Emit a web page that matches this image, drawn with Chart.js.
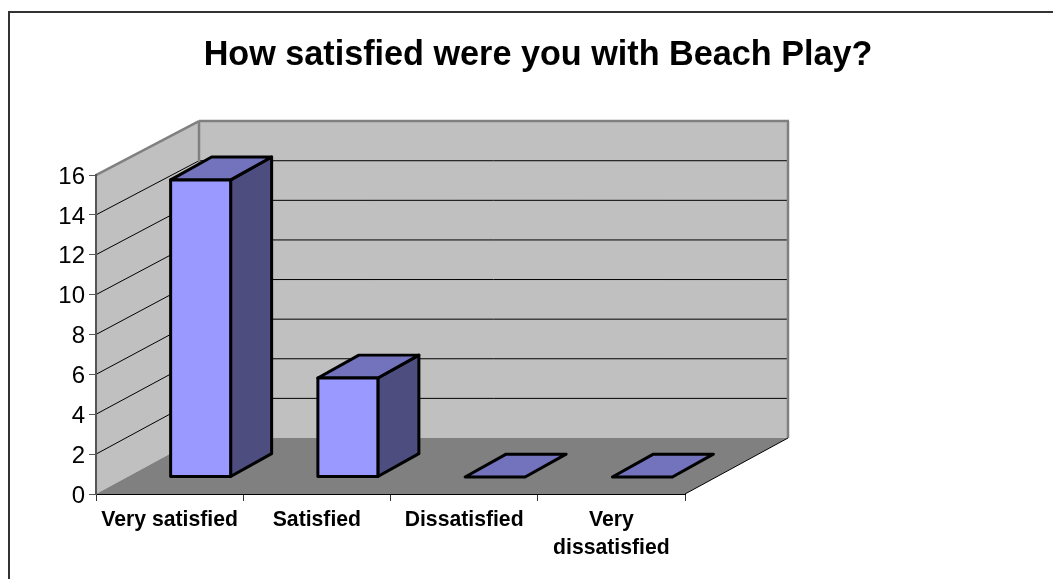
<!DOCTYPE html>
<html><head><meta charset="utf-8">
<style>
html,body{margin:0;padding:0;background:#fff;overflow:hidden}
#wrap{position:relative;width:1053px;height:579px;overflow:hidden}
#frame{position:absolute;left:8px;top:11px;right:-4px;height:566px;border-left:2px solid #333;border-top:2px solid #333}
canvas{position:absolute;left:0;top:0}
</style>
<script src="https://cdn.jsdelivr.net/npm/chart.js@4"></script>
</head><body>
<div id="wrap"><div id="frame"></div><canvas id="c" width="1053" height="579"></canvas></div>
<script>
const titleText = "How satisfied were you with Beach Play?";
const categories = ["Very satisfied", "Satisfied", "Dissatisfied", ["Very", "dissatisfied"]];
const responses = [15, 5, 0, 0];
const yTicks = [0, 2, 4, 6, 8, 10, 12, 14, 16];

const FONT = '"Liberation Sans", Arial, sans-serif';
const WALL = '#C0C0C0', FLOOR = '#808080', EDGE = '#808080';
const FRONT = '#9999FF', TOP = '#7373BD', SIDE = '#4D4D80';
const DEPTH = {x: 103, y: 56};        // full depth of the floor
const BAR_OFFSET = {x: 31, y: 17};    // bar position inside the floor depth
const BAR_DEPTH = {x: 41, y: 23};     // depth of one bar
const PLANE_SCALE = 0.9935;           // perspective shrink of value axis away from the front

function poly(ctx, pts, fill, stroke, lw) {
  ctx.beginPath();
  pts.forEach((p, i) => i ? ctx.lineTo(p[0], p[1]) : ctx.moveTo(p[0], p[1]));
  ctx.closePath();
  if (fill) { ctx.fillStyle = fill; ctx.fill(); }
  if (stroke) { ctx.strokeStyle = stroke; ctx.lineWidth = lw; ctx.lineJoin = 'round'; ctx.stroke(); }
}
function seg(ctx, x1, y1, x2, y2, color, lw) {
  ctx.beginPath(); ctx.moveTo(x1, y1); ctx.lineTo(x2, y2);
  ctx.strokeStyle = color; ctx.lineWidth = lw; ctx.stroke();
}

const box3d = {
  id: 'box3d',
  beforeDraw(chart) {
    const {ctx, scales: {x, y}} = chart;
    const L = x.left, R = x.right, B = y.getPixelForValue(0), T = y.getPixelForValue(16);
    const dx = DEPTH.x, dy = DEPTH.y;
    const backY = v => (B - dy) - (B - y.getPixelForValue(v)) * PLANE_SCALE;
    const wallTop = backY(16);
    ctx.save();
    // walls
    poly(ctx, [[L, B], [L, T], [L + dx, wallTop], [L + dx, B - dy]], WALL);
    poly(ctx, [[L + dx, B - dy], [L + dx, wallTop], [R + dx, wallTop], [R + dx, B - dy]], WALL);
    // grid lines on both walls
    yTicks.filter(v => v > 0 && v < 16).forEach(v => {
      const py = y.getPixelForValue(v), by = backY(v);
      seg(ctx, L, py, L + dx, by, '#000', 1);
      seg(ctx, L + dx, by, R + dx, by, '#000', 1);
    });
    // wall edges
    seg(ctx, L, T, L + dx, wallTop, EDGE, 2.5);
    seg(ctx, L + dx, wallTop, R + dx + 1, wallTop, EDGE, 2.5);
    seg(ctx, L + dx, wallTop, L + dx, B - dy, EDGE, 2.5);
    seg(ctx, R + dx, wallTop, R + dx, B - dy, EDGE, 2.5);
    // floor
    poly(ctx, [[L, B], [R, B], [R + dx, B - dy], [L + dx, B - dy]], FLOOR);
    seg(ctx, R, B, R + dx, B - dy, '#000', 1);
    ctx.restore();
  },
  beforeDatasetDraw(chart) {
    const {ctx} = chart;
    const bars = chart.getDatasetMeta(0).data;
    const base = bars[0].base;
    ctx.save();
    ctx.translate(BAR_OFFSET.x, -BAR_OFFSET.y);
    ctx.translate(0, base); ctx.scale(1, PLANE_SCALE); ctx.translate(0, -base);
    bars.forEach(b => {
      const l = b.x - b.width / 2, r = b.x + b.width / 2, t = b.y, bt = b.base;
      const ddx = BAR_DEPTH.x, ddy = BAR_DEPTH.y;
      if (bt - t > 0.5) {
        poly(ctx, [[r, t], [r + ddx, t - ddy], [r + ddx, bt - ddy], [r, bt]], SIDE, '#000', 3);
      }
      poly(ctx, [[l, t], [l + ddx, t - ddy], [r + ddx, t - ddy], [r, t]], TOP, '#000', 3);
    });
  },
  afterDatasetDraw(chart) {
    const {ctx} = chart;
    chart.getDatasetMeta(0).data.forEach(b => {
      if (b.base - b.y > 0.5) {
        ctx.beginPath();
        ctx.rect(b.x - b.width / 2, b.y, b.width, b.base - b.y);
        ctx.strokeStyle = '#000'; ctx.lineWidth = 3; ctx.lineJoin = 'round';
        ctx.stroke();
      }
    });
    ctx.restore();
  }
};

new Chart(document.getElementById('c'), {
  type: 'bar',
  data: {
    labels: categories,
    datasets: [{
      data: responses,
      backgroundColor: FRONT,
      borderWidth: 0,
      barPercentage: 60 / 147.25,
      categoryPercentage: 1,
      clip: false
    }]
  },
  plugins: [box3d],
  options: {
    responsive: false,
    animation: false,
    events: [],
    layout: {padding: {left: 23, right: 0, top: 0, bottom: 0}},
    plugins: {
      legend: {display: false},
      tooltip: {enabled: false},
      title: {
        display: true,
        text: titleText,
        color: '#000',
        font: {family: FONT, size: 34.2, weight: 'bold', lineHeight: 1.2},
        padding: {top: 35, bottom: 99}
      }
    },
    scales: {
      x: {
        grid: {display: true, drawOnChartArea: false, drawTicks: true, tickLength: 7, color: '#333', tickColor: '#333', lineWidth: 1},
        border: {display: true, color: '#000', width: 1},
        ticks: {color: '#000', font: {family: FONT, size: 21.2, weight: 'bold', lineHeight: 1.33}, maxRotation: 0, minRotation: 0, autoSkip: false, padding: 5},
        afterFit(s) { s.height = 85; }
      },
      y: {
        min: 0, max: 16,
        grid: {display: true, drawOnChartArea: false, drawTicks: true, tickLength: 7, color: '#555', tickColor: '#555', lineWidth: 1},
        border: {display: true, color: '#555', width: 2},
        ticks: {
          color: '#000', stepSize: 2,
          font: {family: FONT, size: 24, lineHeight: 1 / 6},
          padding: 4,
          callback: v => ['', String(v)]   // blank first line nudges the digit down to the tick
        },
        afterFit(s) { s.width = 73; }
      },
      spacer: {
        type: 'linear', position: 'right', display: true,
        grid: {display: false}, border: {display: false}, ticks: {display: false},
        afterFit(s) { s.width = 368; }
      }
    }
  }
});
</script>
</body></html>
